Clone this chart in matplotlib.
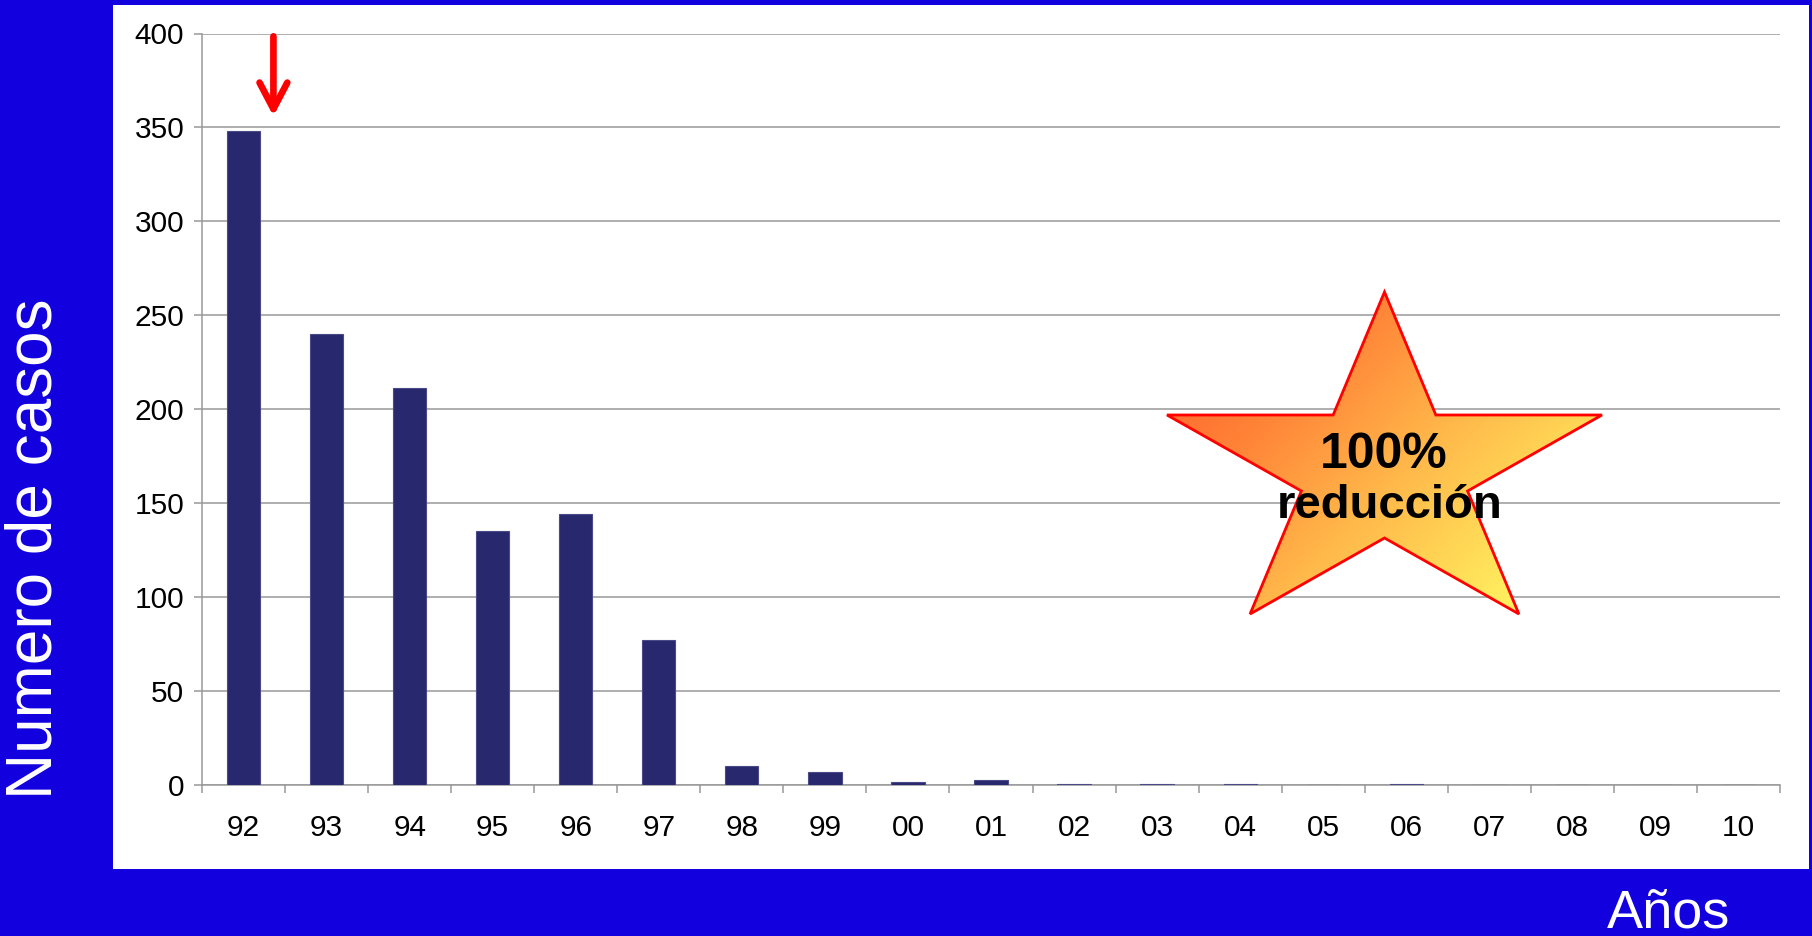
import numpy as np
import matplotlib
matplotlib.use('Agg')
import matplotlib.pyplot as plt
from matplotlib.colors import LinearSegmentedColormap
from matplotlib.patches import Polygon, Rectangle

years = ['92', '93', '94', '95', '96', '97', '98', '99', '00', '01',
         '02', '03', '04', '05', '06', '07', '08', '09', '10']
casos = [348, 240, 211, 135, 144, 77, 10, 7, 1.5, 2.5,
         0.3, 0.3, 0.3, 0, 0.3, 0, 0, 0, 0]
yticks = [0, 50, 100, 150, 200, 250, 300, 350, 400]

BLUE = '#1300df'
BAR = '#28286f'
GRID = '#999999'

plt.rcParams['font.family'] = ['Liberation Sans', 'DejaVu Sans']

W, H = 1812, 936
fig = plt.figure(figsize=(W / 100, H / 100), dpi=100, facecolor=BLUE)

# white panel behind the chart
fig.patches.append(Rectangle((113 / W, 1 - 869 / H), (1809 - 113) / W, (869 - 5) / H,
                             transform=fig.transFigure, facecolor='white',
                             edgecolor='none', zorder=-5))

ax = fig.add_axes([202 / W, 1 - 784.7 / H, (1780 - 202) / W, (784.7 - 33.5) / H])
ax.set_facecolor('none')
x = np.arange(len(years))
ax.bar(x, casos, width=0.4, color=BAR, edgecolor='#4a4a88', linewidth=0.8, zorder=3)

ax.set_xlim(-0.5, len(years) - 0.5)
ax.set_ylim(0, 400)
ax.set_yticks(yticks)
ax.set_yticklabels([str(v) for v in yticks], fontsize=21.5)
ax.set_xticks(x)
ax.set_xticklabels(years, fontsize=21.5)
ax.set_xticks(np.arange(-0.5, len(years)), minor=True)
ax.tick_params(axis='x', which='major', length=0, pad=21, colors='black')
ax.tick_params(axis='x', which='minor', length=8 * 0.72, width=1.1, color=GRID, direction='out')
ax.tick_params(axis='y', length=8 * 0.72, width=1.1, color=GRID, pad=7, labelcolor='black')
ax.grid(axis='y', color=GRID, linewidth=1.1, zorder=1)
ax.set_axisbelow(True)
for s in ['top', 'right']:
    ax.spines[s].set_visible(False)
for s in ['left', 'bottom']:
    ax.spines[s].set_color(GRID)
    ax.spines[s].set_linewidth(1.1)

# red arrow pointing at the first year
ax.annotate('', xy=(0.36, 356), xytext=(0.36, 398.5),
            arrowprops=dict(arrowstyle='->, head_length=0.95, head_width=0.5',
                            color='#ff0000', lw=4.8, mutation_scale=20,
                            shrinkA=0, shrinkB=0), zorder=5)

# overlay in pixel units for the star
ov = fig.add_axes([0, 0, 1, 1], facecolor='none')
ov.axis('off')

cx, cy, rx, ry, k = 1384.5, 470, 228.7, 178, 0.382
ang = np.deg2rad(90 + 36 * np.arange(10))
rad = np.where(np.arange(10) % 2 == 0, 1.0, k)
pts = np.column_stack([cx + rx * rad * np.cos(ang), cy - ry * rad * np.sin(ang)])
star = Polygon(pts, closed=True, facecolor='none', edgecolor='#ff0000', linewidth=2.0, zorder=4)
ov.add_patch(star)

# diagonal gradient fill, top-left to bottom-right
x0, x1 = pts[:, 0].min(), pts[:, 0].max()
y0, y1 = pts[:, 1].min(), pts[:, 1].max()
gx, gy = np.meshgrid(np.linspace(0, x1 - x0, 400), np.linspace(0, y1 - y0, 300))
grad = (gx + gy) / ((x1 - x0) + (y1 - y0))
cmap = LinearSegmentedColormap.from_list(
    'star', [(0, '#ff5526'), (0.3, '#ff8438'), (0.55, '#ffb84a'),
             (0.85, '#ffed5e'), (1, '#fffc66')])
im = ov.imshow(grad, cmap=cmap, extent=(x0, x1, y1, y0), origin='upper',
               aspect='auto', interpolation='bilinear', zorder=3)
im.set_clip_path(star)
ov.set_xlim(0, W)
ov.set_ylim(H, 0)

ov.text(1384, 468, '100%', ha='center', va='baseline', fontsize=36,
        fontweight='bold', color='black', zorder=6)
ov.text(1390, 518, 'reducción', ha='center', va='baseline', fontsize=34,
        fontweight='bold', color='black', zorder=6)

fig.text(35 / W, 1 - 549 / H, 'Numero de casos', rotation=90, ha='center', va='center',
         fontsize=46, color='white')
fig.text(1607 / W, 1 - 928 / H, 'Años', ha='left', va='baseline',
         fontsize=39, color='white')

fig.savefig('out.png', dpi=100, facecolor=BLUE)
